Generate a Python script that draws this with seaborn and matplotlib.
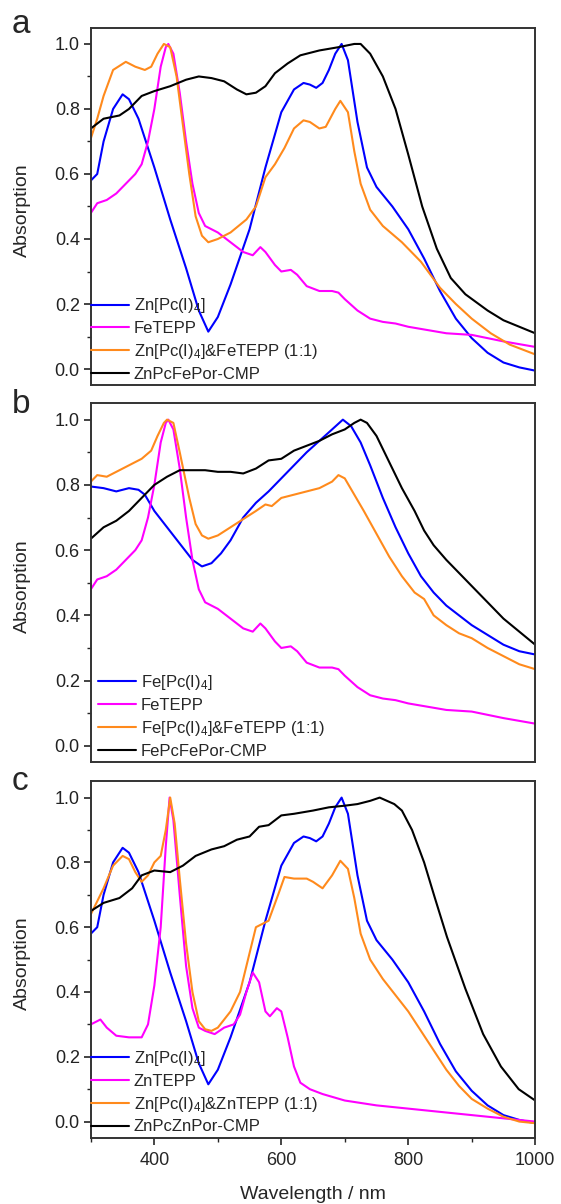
import numpy as np
import pandas as pd
import matplotlib
matplotlib.use('Agg')
import matplotlib.pyplot as plt
from matplotlib.ticker import MultipleLocator, FormatStrFormatter
import seaborn as sns

sns.set_theme(style='ticks')
plt.rcParams['font.family'] = ['Liberation Sans', 'DejaVu Sans']
plt.rcParams['mathtext.fontset'] = 'custom'
plt.rcParams['mathtext.rm'] = 'Liberation Sans'
plt.rcParams['mathtext.it'] = 'Liberation Sans'

# ---- data (wavelength in nm, normalised absorption) ----
# Zn[Pc(I)4]  (panels a and c)
znpc_wl = [300, 310, 320, 335, 350, 360, 375, 400, 425, 450, 470, 485, 500, 520, 550, 575,
           600, 620, 635, 645, 655, 665, 675, 685, 695, 705, 720, 735, 750, 775, 800, 825,
           850, 875, 900, 925, 950, 975, 1000]
znpc_abs = [0.58, 0.60, 0.70, 0.80, 0.845, 0.83, 0.77, 0.62, 0.46, 0.31, 0.18, 0.115, 0.16, 0.26,
            0.43, 0.62, 0.79, 0.86, 0.88, 0.875, 0.865, 0.88, 0.92, 0.97, 1.0, 0.95, 0.76, 0.62,
            0.56, 0.50, 0.43, 0.34, 0.24, 0.155, 0.095, 0.05, 0.02, 0.005, -0.005]

# FeTEPP  (panels a and b)
fetepp_wl = [300, 310, 325, 340, 355, 370, 380, 390, 400, 410, 418, 422, 430, 440, 450, 460,
             470, 480, 500, 520, 540, 555, 567, 575, 590, 600, 615, 625, 640, 660, 680, 690,
             700, 720, 740, 760, 780, 800, 830, 860, 900, 950, 1000]
fetepp_abs = [0.48, 0.51, 0.52, 0.54, 0.57, 0.60, 0.63, 0.70, 0.80, 0.93, 0.99, 1.0, 0.97, 0.85,
              0.70, 0.57, 0.48, 0.44, 0.42, 0.39, 0.36, 0.35, 0.375, 0.36, 0.32, 0.30, 0.305, 0.29,
              0.255, 0.24, 0.24, 0.235, 0.215, 0.18, 0.155, 0.145, 0.14, 0.13, 0.12, 0.11, 0.105,
              0.085, 0.068]

# Zn[Pc(I)4]&FeTEPP (1:1)
mixa_wl = [300, 310, 320, 335, 355, 370, 385, 395, 405, 415, 425, 435, 445, 455, 465, 475, 485,
           500, 520, 545, 560, 575, 590, 605, 620, 635, 645, 660, 670, 685, 693, 705, 715, 725,
           740, 760, 790, 820, 850, 875, 900, 930, 960, 1000]
mixa_abs = [0.71, 0.77, 0.84, 0.92, 0.945, 0.93, 0.92, 0.93, 0.97, 1.0, 0.99, 0.90, 0.75, 0.60,
            0.47, 0.41, 0.39, 0.40, 0.42, 0.46, 0.50, 0.59, 0.63, 0.68, 0.74, 0.765, 0.76, 0.74,
            0.745, 0.80, 0.825, 0.79, 0.67, 0.57, 0.49, 0.44, 0.39, 0.33, 0.25, 0.20, 0.155,
            0.11, 0.075, 0.045]

# ZnPcFePor-CMP
cmpa_wl = [300, 320, 345, 360, 380, 400, 425, 450, 470, 490, 510, 530, 545, 560, 575, 590, 610,
           630, 660, 690, 715, 725, 740, 760, 780, 800, 822, 845, 867, 890, 925, 950, 975, 1000]
cmpa_abs = [0.74, 0.77, 0.78, 0.80, 0.84, 0.855, 0.87, 0.89, 0.90, 0.895, 0.885, 0.86, 0.845,
            0.85, 0.87, 0.91, 0.94, 0.965, 0.98, 0.99, 1.0, 1.0, 0.97, 0.90, 0.80, 0.66, 0.50,
            0.37, 0.28, 0.23, 0.18, 0.15, 0.13, 0.11]

# Fe[Pc(I)4]
fepc_wl = [300, 320, 340, 360, 375, 385, 400, 420, 440, 460, 475, 490, 505, 520, 540, 560, 580,
           600, 620, 640, 660, 680, 697, 710, 725, 740, 760, 780, 800, 820, 840, 860, 880, 900,
           925, 950, 975, 1000]
fepc_abs = [0.795, 0.79, 0.78, 0.79, 0.785, 0.77, 0.72, 0.67, 0.62, 0.57, 0.55, 0.56, 0.59, 0.63,
            0.70, 0.745, 0.78, 0.82, 0.86, 0.90, 0.935, 0.97, 1.0, 0.98, 0.93, 0.86, 0.76, 0.67,
            0.59, 0.52, 0.47, 0.43, 0.40, 0.37, 0.34, 0.31, 0.29, 0.28]

# Fe[Pc(I)4]&FeTEPP (1:1)
mixb_wl = [300, 310, 325, 340, 360, 380, 395, 405, 415, 420, 430, 440, 455, 465, 475, 485, 500,
           520, 540, 560, 575, 585, 600, 620, 640, 660, 680, 690, 700, 715, 730, 750, 770, 790,
           810, 825, 840, 860, 880, 900, 925, 950, 975, 1000]
mixb_abs = [0.81, 0.83, 0.825, 0.84, 0.86, 0.88, 0.905, 0.95, 0.99, 1.0, 0.99, 0.90, 0.76, 0.68,
            0.645, 0.635, 0.645, 0.67, 0.695, 0.72, 0.74, 0.735, 0.76, 0.77, 0.78, 0.79, 0.81,
            0.83, 0.82, 0.77, 0.72, 0.65, 0.58, 0.52, 0.47, 0.45, 0.40, 0.37, 0.345, 0.33, 0.30,
            0.275, 0.25, 0.235]

# FePcFePor-CMP
cmpb_wl = [300, 320, 340, 360, 380, 400, 420, 440, 460, 480, 500, 520, 540, 560, 580, 600, 620,
           640, 660, 680, 700, 715, 725, 735, 750, 770, 790, 810, 825, 840, 860, 880, 900, 925,
           950, 975, 1000]
cmpb_abs = [0.635, 0.67, 0.69, 0.72, 0.76, 0.80, 0.825, 0.845, 0.845, 0.845, 0.84, 0.84, 0.835,
            0.85, 0.875, 0.88, 0.905, 0.92, 0.935, 0.955, 0.97, 0.99, 1.0, 0.99, 0.95, 0.87, 0.79,
            0.72, 0.66, 0.615, 0.57, 0.53, 0.49, 0.44, 0.39, 0.35, 0.31]

# ZnTEPP
zntepp_wl = [300, 315, 325, 340, 360, 380, 390, 400, 410, 418, 424, 430, 440, 450, 460, 470, 480,
             495, 510, 525, 535, 545, 555, 565, 575, 582, 593, 600, 610, 620, 630, 645, 665, 700,
             750, 800, 850, 900, 950, 1000]
zntepp_abs = [0.30, 0.315, 0.29, 0.265, 0.26, 0.26, 0.30, 0.42, 0.60, 0.85, 1.0, 0.93, 0.70, 0.48,
              0.35, 0.29, 0.28, 0.27, 0.29, 0.30, 0.33, 0.40, 0.46, 0.43, 0.34, 0.325, 0.35, 0.34,
              0.26, 0.17, 0.12, 0.10, 0.085, 0.065, 0.05, 0.04, 0.03, 0.02, 0.01, 0.0]

# Zn[Pc(I)4]&ZnTEPP (1:1)
mixc_wl = [300, 320, 335, 350, 360, 370, 380, 390, 400, 410, 418, 425, 432, 440, 450, 460, 470,
           480, 490, 500, 520, 535, 550, 560, 570, 580, 595, 605, 620, 640, 650, 665, 680, 693,
           705, 715, 725, 740, 760, 780, 800, 820, 840, 860, 880, 900, 925, 950, 975, 1000]
mixc_abs = [0.64, 0.72, 0.79, 0.82, 0.81, 0.77, 0.74, 0.76, 0.80, 0.82, 0.90, 1.0, 0.92, 0.75,
            0.55, 0.40, 0.31, 0.285, 0.28, 0.29, 0.34, 0.40, 0.52, 0.60, 0.61, 0.62, 0.70, 0.755,
            0.75, 0.75, 0.74, 0.72, 0.76, 0.805, 0.78, 0.69, 0.58, 0.50, 0.44, 0.39, 0.34, 0.28,
            0.22, 0.16, 0.11, 0.07, 0.04, 0.015, 0.0, -0.005]

# ZnPcZnPor-CMP
cmpc_wl = [300, 320, 345, 365, 380, 400, 425, 445, 465, 490, 510, 530, 550, 565, 580, 600, 620,
           650, 675, 700, 720, 740, 755, 778, 790, 806, 825, 842, 861, 890, 918, 946, 974, 1000]
cmpc_abs = [0.65, 0.675, 0.69, 0.72, 0.76, 0.775, 0.77, 0.79, 0.82, 0.84, 0.85, 0.87, 0.88, 0.91,
            0.915, 0.945, 0.95, 0.96, 0.97, 0.975, 0.98, 0.99, 1.0, 0.98, 0.96, 0.90, 0.80, 0.69,
            0.57, 0.41, 0.27, 0.17, 0.10, 0.065]

panel_letters = ['a', 'b', 'c']
legend_labels = [
    ['Zn[Pc(I)$_4$]', 'FeTEPP', 'Zn[Pc(I)$_4$]&FeTEPP (1:1)', 'ZnPcFePor-CMP'],
    ['Fe[Pc(I)$_4$]', 'FeTEPP', 'Fe[Pc(I)$_4$]&FeTEPP (1:1)', 'FePcFePor-CMP'],
    ['Zn[Pc(I)$_4$]', 'ZnTEPP', 'Zn[Pc(I)$_4$]&ZnTEPP (1:1)', 'ZnPcZnPor-CMP'],
]
panel_series = [
    [(znpc_wl, znpc_abs), (fetepp_wl, fetepp_abs), (mixa_wl, mixa_abs), (cmpa_wl, cmpa_abs)],
    [(fepc_wl, fepc_abs), (fetepp_wl, fetepp_abs), (mixb_wl, mixb_abs), (cmpb_wl, cmpb_abs)],
    [(znpc_wl, znpc_abs), (zntepp_wl, zntepp_abs), (mixc_wl, mixc_abs), (cmpc_wl, cmpc_abs)],
]
colors = ['#0000ff', '#ff00ff', '#ff8a1c', '#000000']

W, H = 561, 1204
fig = plt.figure(figsize=(W / 100, H / 100), dpi=100)
# axes rectangles (left, bottom, width, height) in figure fraction
rects = [(0.162, 0.680, 0.792, 0.297),
         (0.162, 0.367, 0.792, 0.298),
         (0.162, 0.055, 0.792, 0.296)]
letter_base = [33, 413, 790]   # baseline of panel letters, px from top

for i, rect in enumerate(rects):
    ax = fig.add_axes(rect)
    for (wl, ab), lab, col in zip(panel_series[i], legend_labels[i], colors):
        df = pd.DataFrame({'wl': wl, 'abs': ab})
        sns.lineplot(data=df, x='wl', y='abs', ax=ax, color=col, lw=1.5, label=lab,
                     sort=False, estimator=None)
    ax.set_xlim(300, 1000)
    ax.set_ylim(-0.05, 1.05)
    ax.yaxis.set_major_locator(MultipleLocator(0.2))
    ax.yaxis.set_minor_locator(MultipleLocator(0.1))
    ax.xaxis.set_major_locator(MultipleLocator(200))
    ax.xaxis.set_minor_locator(MultipleLocator(100))
    ax.yaxis.set_major_formatter(FormatStrFormatter('%.1f'))
    ax.tick_params(axis='y', which='major', direction='out', length=5, width=1.2,
                   labelsize=13, colors='#222222', right=False, pad=3)
    ax.tick_params(axis='y', which='minor', direction='out', length=3, width=1.0, right=False)
    ax.set_ylabel('Absorption', fontsize=14)
    ax.yaxis.set_label_coords(-0.135, 0.49)
    for s in ax.spines.values():
        s.set_linewidth(1.4)
        s.set_color('#333333')
    if i < 2:
        ax.tick_params(axis='x', which='both', bottom=False, labelbottom=False)
        ax.set_xlabel('')
    else:
        ax.tick_params(axis='x', which='major', direction='out', length=5, width=1.2,
                       labelsize=13, top=False, pad=5)
        ax.tick_params(axis='x', which='minor', direction='out', length=3, width=1.0, top=False)
        ax.set_xlabel('Wavelength / nm', fontsize=14)
        ax.xaxis.set_label_coords(0.5, -0.135)
    ax.legend(loc='lower left', bbox_to_anchor=(-0.008 if i != 1 else 0.008, 0.0),
              frameon=False, fontsize=12, handlelength=2.3, handletextpad=0.3,
              labelspacing=0.35, borderaxespad=0, borderpad=0.2)
    fig.text(12 / W, 1 - letter_base[i] / H, panel_letters[i], fontsize=24,
             ha='left', va='baseline')

fig.savefig('out.png', dpi=100)
